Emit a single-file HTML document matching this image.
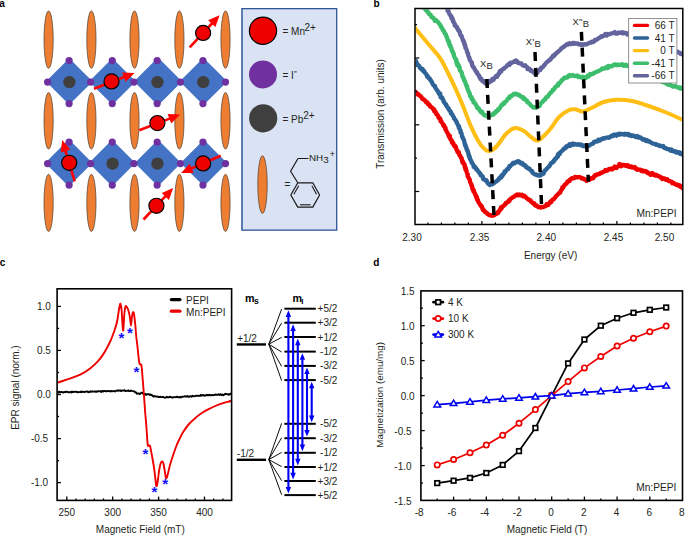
<!DOCTYPE html>
<html><head><meta charset="utf-8"><style>
html,body{margin:0;padding:0;background:#fff;}
svg{display:block;}
text{font-family:"Liberation Sans",sans-serif;}
</style></head><body>
<svg width="685" height="535" viewBox="0 0 685 535">
<rect width="685" height="535" fill="#fff"/>
<text x="-0.8" y="7" font-size="10" text-anchor="start" font-weight="bold" fill="#000" >a</text>
<ellipse cx="48.6" cy="39.6" rx="4.6" ry="28.7" fill="#ED7D31" stroke="#4a3c30" stroke-width="0.7"/>
<ellipse cx="91.4" cy="39.6" rx="4.6" ry="28.7" fill="#ED7D31" stroke="#4a3c30" stroke-width="0.7"/>
<ellipse cx="134.5" cy="39.6" rx="4.6" ry="28.7" fill="#ED7D31" stroke="#4a3c30" stroke-width="0.7"/>
<ellipse cx="179.4" cy="39.6" rx="4.6" ry="28.7" fill="#ED7D31" stroke="#4a3c30" stroke-width="0.7"/>
<ellipse cx="225.5" cy="39.6" rx="4.6" ry="28.7" fill="#ED7D31" stroke="#4a3c30" stroke-width="0.7"/>
<ellipse cx="48.6" cy="120.8" rx="4.6" ry="28.3" fill="#ED7D31" stroke="#4a3c30" stroke-width="0.7"/>
<ellipse cx="91.4" cy="120.8" rx="4.6" ry="28.3" fill="#ED7D31" stroke="#4a3c30" stroke-width="0.7"/>
<ellipse cx="134.5" cy="120.8" rx="4.6" ry="28.3" fill="#ED7D31" stroke="#4a3c30" stroke-width="0.7"/>
<ellipse cx="179.4" cy="120.8" rx="4.6" ry="28.3" fill="#ED7D31" stroke="#4a3c30" stroke-width="0.7"/>
<ellipse cx="225.5" cy="120.8" rx="4.6" ry="28.3" fill="#ED7D31" stroke="#4a3c30" stroke-width="0.7"/>
<ellipse cx="48.6" cy="202.9" rx="4.6" ry="28.6" fill="#ED7D31" stroke="#4a3c30" stroke-width="0.7"/>
<ellipse cx="91.4" cy="202.9" rx="4.6" ry="28.6" fill="#ED7D31" stroke="#4a3c30" stroke-width="0.7"/>
<ellipse cx="134.5" cy="202.9" rx="4.6" ry="28.6" fill="#ED7D31" stroke="#4a3c30" stroke-width="0.7"/>
<ellipse cx="179.4" cy="202.9" rx="4.6" ry="28.6" fill="#ED7D31" stroke="#4a3c30" stroke-width="0.7"/>
<ellipse cx="225.5" cy="202.9" rx="4.6" ry="28.6" fill="#ED7D31" stroke="#4a3c30" stroke-width="0.7"/>
<path d="M45.95,81.45 L69.25,58.15 L92.55,81.45 L69.25,104.75 Z" fill="#4472C4"/>
<path d="M89.10,81.45 L112.40,58.15 L135.70,81.45 L112.40,104.75 Z" fill="#4472C4"/>
<path d="M134.00,81.45 L158.00,57.45 L182.00,81.45 L158.00,105.45 Z" fill="#4472C4"/>
<path d="M179.65,81.45 L203.45,57.65 L227.25,81.45 L203.45,105.25 Z" fill="#4472C4"/>
<path d="M45.20,162.95 L68.80,139.35 L92.40,162.95 L68.80,186.55 Z" fill="#4472C4"/>
<path d="M88.95,162.95 L112.15,139.75 L135.35,162.95 L112.15,186.15 Z" fill="#4472C4"/>
<path d="M134.80,162.95 L158.00,139.75 L181.20,162.95 L158.00,186.15 Z" fill="#4472C4"/>
<path d="M180.60,162.95 L203.80,139.75 L227.00,162.95 L203.80,186.15 Z" fill="#4472C4"/>
<circle cx="69.1" cy="60.599999999999994" r="3.6" fill="#7030A0"/>
<circle cx="69.1" cy="103.6" r="3.6" fill="#7030A0"/>
<circle cx="112.25" cy="60.599999999999994" r="3.6" fill="#7030A0"/>
<circle cx="112.25" cy="103.6" r="3.6" fill="#7030A0"/>
<circle cx="157.15" cy="60.599999999999994" r="3.6" fill="#7030A0"/>
<circle cx="157.15" cy="103.6" r="3.6" fill="#7030A0"/>
<circle cx="202.95" cy="60.599999999999994" r="3.6" fill="#7030A0"/>
<circle cx="202.95" cy="103.6" r="3.6" fill="#7030A0"/>
<circle cx="47.6" cy="82.1" r="3.6" fill="#7030A0"/>
<circle cx="90.6" cy="82.1" r="3.6" fill="#7030A0"/>
<circle cx="133.9" cy="82.1" r="3.6" fill="#7030A0"/>
<circle cx="180.4" cy="82.1" r="3.6" fill="#7030A0"/>
<circle cx="225.5" cy="82.1" r="3.6" fill="#7030A0"/>
<circle cx="69.1" cy="142.1" r="3.6" fill="#7030A0"/>
<circle cx="69.1" cy="185.1" r="3.6" fill="#7030A0"/>
<circle cx="112.25" cy="142.1" r="3.6" fill="#7030A0"/>
<circle cx="112.25" cy="185.1" r="3.6" fill="#7030A0"/>
<circle cx="157.15" cy="142.1" r="3.6" fill="#7030A0"/>
<circle cx="157.15" cy="185.1" r="3.6" fill="#7030A0"/>
<circle cx="202.95" cy="142.1" r="3.6" fill="#7030A0"/>
<circle cx="202.95" cy="185.1" r="3.6" fill="#7030A0"/>
<circle cx="47.6" cy="163.6" r="3.6" fill="#7030A0"/>
<circle cx="90.6" cy="163.6" r="3.6" fill="#7030A0"/>
<circle cx="133.9" cy="163.6" r="3.6" fill="#7030A0"/>
<circle cx="180.4" cy="163.6" r="3.6" fill="#7030A0"/>
<circle cx="225.5" cy="163.6" r="3.6" fill="#7030A0"/>
<circle cx="69.39999999999999" cy="82.1" r="6.2" fill="#3F3F3F"/>
<circle cx="157.45000000000002" cy="82.1" r="6.2" fill="#3F3F3F"/>
<circle cx="203.25" cy="82.1" r="6.2" fill="#3F3F3F"/>
<circle cx="112.55" cy="163.6" r="6.2" fill="#3F3F3F"/>
<circle cx="157.45000000000002" cy="163.6" r="6.2" fill="#3F3F3F"/>
<line x1="94" y1="88.7" x2="124.8" y2="76.8" stroke="#FF0000" stroke-width="2.6"/><path d="M134.6,73 L125.7,81.8 L122.1,72.5 Z" fill="#FF0000"/>
<line x1="74.7" y1="181.4" x2="65.2" y2="150.0" stroke="#FF0000" stroke-width="2.6"/><path d="M62.2,139.9 L70.3,149.5 L60.7,152.4 Z" fill="#FF0000"/>
<line x1="220.7" y1="155.7" x2="190.7" y2="168.8" stroke="#FF0000" stroke-width="2.6"/><path d="M181.1,173 L189.6,163.8 L193.6,173.0 Z" fill="#FF0000"/>
<line x1="189.7" y1="47.4" x2="212.4" y2="23.0" stroke="#FF0000" stroke-width="2.6"/><path d="M219.6,15.3 L215.4,27.1 L208.1,20.3 Z" fill="#FF0000"/>
<line x1="139.2" y1="130.3" x2="170.3" y2="118.4" stroke="#FF0000" stroke-width="2.6"/><path d="M180.1,114.6 L171.2,123.4 L167.6,114.1 Z" fill="#FF0000"/>
<line x1="143.5" y1="219.5" x2="166.0" y2="195.7" stroke="#FF0000" stroke-width="2.6"/><path d="M173.2,188.1 L168.9,199.9 L161.7,193.0 Z" fill="#FF0000"/>
<circle cx="111.5" cy="81.4" r="7.55" fill="#EE0000" stroke="#000" stroke-width="1.15"/>
<circle cx="69.2" cy="162.8" r="7.55" fill="#EE0000" stroke="#000" stroke-width="1.15"/>
<circle cx="203.1" cy="163.4" r="7.55" fill="#EE0000" stroke="#000" stroke-width="1.15"/>
<circle cx="203.1" cy="32.9" r="7.55" fill="#EE0000" stroke="#000" stroke-width="1.15"/>
<circle cx="157.4" cy="123.1" r="7.55" fill="#EE0000" stroke="#000" stroke-width="1.15"/>
<circle cx="156.4" cy="205.8" r="7.55" fill="#EE0000" stroke="#000" stroke-width="1.15"/>
<rect x="241.9" y="8.65" width="94.8" height="221.5" fill="#DAE3F3" stroke="#2F5597" stroke-width="1.3"/>
<line x1="242.3" y1="9" x2="242.3" y2="229.8" stroke="#5273B0" stroke-width="1"/>
<circle cx="263" cy="30.7" r="13.6" fill="#EE0000" stroke="#000" stroke-width="1.2"/>
<circle cx="263" cy="74.4" r="14" fill="#7030A0"/>
<circle cx="263.2" cy="118.3" r="14.1" fill="#3F3F3F"/>
<ellipse cx="262.5" cy="184.6" rx="4.7" ry="28.8" fill="#ED7D31" stroke="#4a3c30" stroke-width="0.7"/>
<text x="282.5" y="34.6" font-size="10" text-anchor="start" font-weight="normal" fill="#231f20" >= Mn</text>
<text x="304.5" y="30.6" font-size="10" text-anchor="start" font-weight="normal" fill="#231f20" >2+</text>
<text x="282.5" y="78.6" font-size="10" text-anchor="start" font-weight="normal" fill="#231f20" >= I</text>
<line x1="294.2" y1="71.9" x2="296.8" y2="71.9" stroke="#231f20" stroke-width="0.9"/>
<text x="282.5" y="122.6" font-size="10" text-anchor="start" font-weight="normal" fill="#231f20" >= Pb</text>
<text x="303.3" y="118.6" font-size="10" text-anchor="start" font-weight="normal" fill="#231f20" >2+</text>
<text x="284.6" y="188.0" font-size="10" text-anchor="start" font-weight="normal" fill="#231f20" >=</text>
<path d="M297.8,182.8 L312.8,182.8 L319.6,195.0 L312.8,207.1 L297.8,207.1 L290.8,195.0 Z" fill="none" stroke="#1a1a1a" stroke-width="1.2" stroke-linejoin="round"/>
<path d="M298,158.5 L308.4,158.5 M298,158.5 L290.6,171.2 L297.8,182.8" fill="none" stroke="#1a1a1a" stroke-width="1.2" stroke-linejoin="round"/>
<line x1="311.9" y1="185.8" x2="316.5" y2="194.2" stroke="#1a1a1a" stroke-width="1.1"/>
<line x1="310.6" y1="204.8" x2="300.0" y2="204.8" stroke="#1a1a1a" stroke-width="1.1"/>
<line x1="293.9" y1="194.2" x2="298.7" y2="185.8" stroke="#1a1a1a" stroke-width="1.1"/>
<text x="309.0" y="160.8" font-size="9.8" text-anchor="start" font-weight="normal" fill="#231f20" >NH</text>
<text x="323.3" y="163.1" font-size="9.8" text-anchor="start" font-weight="normal" fill="#231f20" >3</text>
<text x="329.6" y="156.9" font-size="9.8" text-anchor="start" font-weight="normal" fill="#231f20" >+</text>
<text x="373.5" y="7" font-size="10" text-anchor="start" font-weight="bold" fill="#000" >b</text>
<defs><clipPath id="cb"><rect x="415.6" y="9.2" width="266.6" height="214.6"/></clipPath><clipPath id="cc"><rect x="58" y="289" width="173.6" height="210.5"/></clipPath></defs>
<g clip-path="url(#cb)" fill="none" stroke-linejoin="round" stroke-linecap="round">
<path d="M414.9,91.7 L415.3,91.7 L415.5,92.1 L416.4,92.7 L416.9,93.1 L417.3,93.5 L417.4,94.4 L418.5,94.7 L418.6,94.3 L419.5,95.5 L420.4,96.3 L421.1,96.6 L421.8,97.7 L422.2,98.9 L423.2,99.3 L423.6,99.1 L424.3,100.0 L425.2,100.8 L425.6,100.8 L426.1,102.4 L426.6,102.5 L427.5,102.4 L428.0,104.2 L428.1,104.1 L429.2,104.5 L429.9,105.5 L430.0,106.5 L431.0,107.1 L431.7,107.5 L432.0,107.4 L432.6,108.3 L432.9,108.6 L433.3,109.5 L434.3,109.5 L434.2,111.2 L435.3,112.0 L435.1,111.2 L436.1,112.7 L436.2,114.1 L437.2,114.4 L437.5,115.2 L438.2,116.0 L438.4,116.6 L438.4,117.6 L439.4,118.0 L439.2,118.2 L440.2,118.4 L440.4,120.3 L440.6,121.3 L441.4,121.2 L441.8,122.3 L442.2,123.3 L442.4,123.3 L443.2,124.3 L443.2,125.4 L444.1,125.5 L443.8,126.3 L444.5,126.9 L445.2,127.3 L445.5,127.9 L445.4,129.5 L446.2,130.3 L446.4,130.8 L446.7,131.7 L447.0,132.3 L447.5,132.9 L448.0,133.9 L448.6,134.5 L448.4,134.9 L448.9,136.2 L449.1,136.7 L450.0,136.1 L449.7,138.0 L450.4,138.7 L450.6,139.6 L451.2,139.8 L452.1,141.0 L451.8,141.5 L452.3,142.2 L452.1,142.7 L453.4,143.1 L453.5,144.7 L454.1,145.7 L454.0,145.5 L454.7,146.6 L455.4,145.9 L455.8,147.1 L456.1,147.8 L456.4,149.7 L456.8,150.0 L457.4,150.8 L457.5,152.1 L458.2,151.9 L458.9,152.2 L458.9,153.3 L459.1,154.4 L459.5,155.1 L459.4,154.8 L460.3,155.8 L460.3,156.3 L461.2,158.0 L461.6,157.9 L461.6,158.6 L462.2,160.5 L462.1,161.3 L462.9,161.3 L462.6,162.7 L463.4,162.6 L463.8,163.9 L464.4,164.0 L464.6,165.9 L465.0,165.9 L464.8,167.1 L465.3,167.5 L465.8,168.1 L465.3,168.8 L465.7,170.1 L466.4,170.2 L466.6,171.7 L466.9,172.7 L467.1,173.3 L467.8,174.4 L467.5,174.9 L467.5,174.8 L467.8,176.6 L468.2,176.9 L468.7,177.7 L468.9,178.6 L469.7,179.3 L469.7,180.6 L469.9,180.3 L470.1,182.2 L470.1,182.2 L471.0,183.6 L471.1,184.4 L471.4,184.3 L471.3,185.3 L472.2,186.1 L472.1,186.8 L472.2,187.9 L472.6,189.0 L472.7,189.7 L473.4,189.5 L474.0,191.1 L473.6,191.6 L474.5,192.5 L474.9,193.8 L475.2,194.4 L475.6,195.3 L475.7,194.8 L476.1,197.0 L476.2,196.9 L477.0,197.0 L476.9,199.5 L476.9,199.3 L478.0,199.9 L478.1,201.3 L478.3,201.7 L479.0,203.0 L479.4,203.3 L479.6,204.0 L480.5,205.0 L480.5,205.3 L481.7,206.8 L481.7,205.8 L482.1,207.8 L482.7,208.4 L482.7,209.0 L482.7,209.8 L483.9,210.0 L484.8,211.9 L484.8,211.5 L485.8,212.5 L486.2,212.4 L487.4,213.8 L487.2,213.2 L488.7,214.8 L489.5,215.2 L489.6,215.3 L490.1,215.1 L491.5,215.7 L492.0,215.4 L493.0,215.6 L493.8,215.4 L494.3,215.4 L495.2,214.4 L495.9,214.2 L497.0,213.6 L497.5,213.2 L497.9,212.0 L498.5,212.5 L499.1,211.4 L499.6,210.4 L499.6,210.1 L500.4,209.8 L500.9,207.5 L501.4,208.7 L502.2,206.6 L502.6,206.8 L503.5,205.9 L504.2,205.5 L504.5,204.8 L505.4,204.4 L505.8,202.9 L506.2,203.1 L506.8,202.6 L507.6,201.9 L508.1,202.0 L509.0,200.2 L509.4,200.9 L509.9,199.6 L510.8,198.7 L510.9,198.3 L511.9,198.3 L512.6,197.4 L513.2,197.2 L513.9,196.6 L514.6,196.5 L515.3,195.5 L516.3,194.9 L517.0,194.4 L517.8,195.4 L518.9,195.1 L519.5,194.5 L520.8,195.4 L521.4,194.9 L521.9,194.7 L522.9,196.3 L523.0,196.2 L524.4,195.8 L524.6,196.6 L525.6,196.9 L526.5,198.1 L527.4,198.8 L528.3,199.5 L528.4,199.2 L529.1,199.5 L530.0,200.6 L530.7,200.5 L531.0,201.8 L531.9,202.2 L532.5,202.6 L533.3,203.7 L533.8,203.8 L534.4,203.4 L534.8,205.0 L535.5,205.6 L536.6,205.4 L537.3,206.3 L538.3,207.1 L538.9,206.8 L539.7,207.3 L540.7,207.6 L541.1,206.9 L541.9,207.1 L542.4,207.2 L543.2,207.1 L544.1,206.6 L545.2,206.3 L545.7,206.0 L546.5,204.3 L546.9,204.9 L548.1,205.1 L548.6,204.2 L549.2,203.6 L549.6,202.6 L550.2,201.7 L550.9,201.2 L551.3,202.1 L551.7,200.6 L552.7,200.0 L552.8,199.5 L553.8,199.0 L554.1,198.9 L555.2,197.5 L555.5,196.6 L556.4,195.8 L556.9,195.3 L557.1,195.2 L558.2,194.2 L558.3,194.0 L559.0,193.1 L559.9,192.9 L560.0,192.8 L560.6,191.4 L561.0,190.4 L561.2,190.5 L562.4,188.4 L562.3,187.5 L563.4,187.4 L563.6,186.7 L564.1,185.7 L564.6,184.8 L565.1,184.9 L565.7,184.0 L565.9,183.6 L566.5,183.6 L567.3,182.3 L567.5,181.5 L567.9,181.2 L568.7,181.1 L569.5,181.2 L570.0,179.7 L571.6,178.3 L571.7,178.8 L572.6,178.5 L573.4,178.2 L574.2,178.1 L574.6,177.1 L575.8,176.8 L576.4,177.4 L577.3,177.3 L578.4,177.1 L579.1,177.0 L579.5,177.2 L580.7,177.3 L581.3,178.2 L582.0,178.6 L583.4,178.5 L583.8,179.1 L584.9,179.7 L585.5,179.5 L586.1,180.1 L586.5,180.9 L587.9,179.4 L588.6,180.0 L589.2,180.0 L589.4,179.4 L590.8,178.9 L590.9,178.1 L591.5,178.4 L592.8,177.9 L593.2,178.2 L593.8,176.3 L594.8,176.3 L595.2,175.0 L596.4,175.1 L597.0,174.4 L597.8,174.4 L598.6,173.9 L599.2,174.1 L600.3,173.1 L600.9,172.6 L601.5,173.0 L602.7,172.1 L603.1,172.1 L603.6,171.6 L604.6,171.5 L605.3,170.1 L606.4,170.8 L607.1,170.7 L608.0,169.7 L608.9,169.0 L609.5,169.4 L610.6,169.1 L611.2,168.6 L611.9,169.3 L612.4,169.4 L613.1,168.1 L614.2,168.2 L614.7,166.5 L615.9,167.4 L616.7,167.9 L617.4,166.5 L618.3,166.3 L619.1,165.3 L619.4,164.0 L620.4,165.2 L621.1,166.2 L621.7,165.0 L622.4,164.6 L623.2,165.3 L624.3,165.0 L624.9,165.5 L625.8,165.1 L626.5,165.2 L626.8,166.1 L627.9,165.2 L628.8,166.0 L628.9,166.8 L630.1,166.7 L630.9,166.5 L631.2,167.3 L632.4,167.0 L633.3,167.5 L634.2,167.6 L634.8,167.1 L635.6,168.7 L636.8,168.6 L637.3,169.8 L638.2,169.7 L639.5,169.7 L640.3,169.7 L640.7,170.2 L641.4,171.0 L642.6,170.4 L642.7,171.2 L643.3,171.4 L644.4,171.3 L645.1,171.0 L645.9,171.2 L646.3,171.9 L647.2,172.8 L648.0,172.5 L648.9,173.6 L649.5,173.3 L650.6,173.5 L650.8,174.8 L652.4,173.1 L652.7,174.4 L653.7,174.8 L654.2,174.3 L655.1,175.6 L655.7,174.9 L656.7,174.8 L657.5,175.8 L658.5,176.0 L659.0,176.5 L660.0,176.7 L660.7,177.6 L661.7,178.4 L662.0,177.7 L662.4,179.1 L663.6,178.6 L664.7,178.4 L665.5,179.3 L665.9,179.9 L667.4,179.3 L668.2,180.6 L669.0,181.1 L670.0,181.2 L670.8,181.5 L671.6,181.7 L672.3,183.3 L673.3,182.8 L673.7,182.9 L674.9,184.1 L675.7,184.3 L676.4,185.0 L677.1,184.5 L678.1,185.1 L678.6,185.2 L679.2,186.1 L680.0,185.5 L680.7,186.4 L680.9,187.0 L681.6,186.7 L682.3,187.7 L682.4,187.5 L682.8,188.5" stroke="#EE0000" stroke-width="4.3"/>
<path d="M414.9,62.0 L415.1,62.2 L416.1,61.1 L415.8,62.8 L416.3,62.7 L417.2,63.5 L416.8,64.4 L417.2,65.0 L418.0,65.1 L418.9,65.7 L418.8,65.5 L419.9,67.2 L420.0,67.9 L420.9,68.4 L420.8,68.7 L422.1,69.8 L422.7,69.1 L423.2,71.1 L424.3,71.2 L424.3,72.3 L425.1,72.9 L425.8,73.4 L426.2,74.3 L426.8,74.9 L427.0,76.5 L427.9,76.4 L428.5,77.9 L428.8,78.1 L429.6,79.0 L429.9,78.6 L430.7,80.3 L430.9,80.7 L431.4,81.3 L431.6,81.8 L432.2,82.5 L432.5,83.8 L432.9,84.5 L433.4,85.0 L434.4,85.7 L434.4,86.3 L435.1,86.2 L435.3,87.8 L435.8,88.5 L436.5,89.5 L437.0,90.1 L437.2,90.6 L437.6,91.2 L438.1,91.3 L438.5,92.7 L438.8,93.5 L439.5,94.1 L440.3,93.7 L440.2,94.8 L440.9,97.5 L440.6,97.1 L441.7,97.5 L442.1,97.4 L442.6,99.2 L442.8,99.4 L443.3,100.1 L443.7,100.8 L443.6,101.7 L444.6,102.9 L444.8,103.3 L445.7,104.1 L446.3,105.7 L446.3,104.7 L447.2,107.0 L447.7,107.5 L447.8,107.5 L448.6,108.2 L448.5,108.9 L449.9,110.9 L449.6,110.4 L450.3,111.1 L451.0,112.2 L450.9,113.5 L451.4,113.7 L452.0,114.1 L452.4,114.6 L452.3,114.6 L452.9,115.9 L453.5,116.9 L454.0,117.5 L454.1,117.7 L454.1,118.6 L455.0,119.4 L455.4,120.1 L456.2,121.1 L456.6,122.2 L456.8,123.2 L457.0,123.2 L457.3,123.7 L458.1,125.5 L458.1,125.6 L458.6,126.4 L458.9,126.1 L458.8,127.6 L459.6,128.2 L459.4,128.9 L459.9,129.6 L460.6,130.4 L460.5,132.3 L461.0,132.2 L460.9,132.9 L461.7,133.7 L461.8,134.2 L461.9,134.8 L462.2,136.3 L462.0,136.5 L462.7,137.0 L462.8,138.4 L463.6,139.2 L463.5,139.0 L464.2,140.6 L464.0,140.8 L464.3,141.7 L464.6,143.2 L464.9,143.9 L464.9,145.2 L465.3,144.6 L465.7,145.9 L465.8,146.8 L466.3,147.2 L466.5,149.2 L467.0,149.3 L467.2,150.1 L467.4,151.3 L467.7,150.7 L468.0,152.2 L468.4,153.1 L468.6,155.2 L468.7,154.5 L468.9,154.8 L469.1,156.8 L469.7,156.6 L469.8,158.6 L470.2,158.9 L470.8,160.4 L471.4,161.0 L471.3,161.4 L472.0,162.6 L471.8,162.9 L472.3,163.3 L472.4,163.3 L472.7,163.8 L473.6,165.7 L473.6,166.9 L474.6,166.2 L475.4,168.2 L476.0,167.9 L476.1,169.3 L476.6,169.8 L477.3,169.6 L477.4,170.2 L478.0,171.1 L478.8,172.0 L479.2,172.2 L479.6,173.5 L480.4,173.8 L480.7,175.2 L481.1,175.5 L482.0,175.8 L482.5,176.1 L483.0,177.4 L482.9,178.3 L483.5,179.3 L484.1,179.2 L484.8,179.7 L485.3,180.2 L485.9,180.9 L486.5,180.3 L487.4,182.2 L487.4,182.8 L488.5,183.8 L488.9,184.4 L489.8,185.1 L490.6,184.4 L491.4,183.5 L492.3,184.3 L493.0,184.0 L493.1,182.6 L493.7,182.7 L494.3,182.9 L495.2,182.1 L495.9,181.6 L496.5,181.5 L497.4,180.3 L497.5,180.6 L498.6,179.8 L498.9,178.5 L500.0,177.4 L500.4,177.8 L501.2,177.7 L501.3,175.7 L502.2,176.2 L502.6,174.5 L503.3,174.7 L503.8,173.5 L504.3,173.3 L504.6,171.4 L505.4,171.7 L505.8,171.2 L506.3,170.1 L506.9,169.7 L507.8,168.6 L508.4,168.8 L508.7,167.8 L509.4,166.9 L509.5,166.0 L510.1,166.6 L510.9,165.5 L511.5,164.7 L512.0,164.5 L513.0,163.0 L513.6,162.7 L514.7,163.2 L514.9,162.8 L516.1,161.9 L516.3,161.7 L517.3,162.1 L518.1,161.1 L518.9,161.4 L519.7,161.8 L520.0,162.2 L520.7,163.5 L521.7,163.6 L522.3,163.1 L522.8,164.1 L523.4,165.1 L524.1,165.1 L524.8,165.0 L525.9,167.1 L526.5,166.6 L526.6,167.6 L528.3,168.1 L528.9,169.1 L529.6,168.8 L530.3,169.9 L530.4,170.0 L531.1,170.7 L532.2,171.0 L532.4,172.7 L533.6,173.4 L534.0,173.8 L535.5,174.7 L535.7,174.4 L536.4,175.1 L537.4,175.0 L537.7,175.4 L538.6,175.4 L539.6,175.7 L540.3,174.6 L540.7,175.4 L541.0,174.5 L542.0,174.4 L542.4,172.8 L542.6,173.1 L543.6,173.6 L543.9,172.3 L544.9,170.5 L545.1,170.6 L545.8,169.8 L546.6,168.8 L547.2,168.2 L547.6,168.0 L548.2,167.2 L549.3,166.3 L549.4,165.9 L550.0,165.4 L550.3,164.5 L551.0,163.2 L552.1,162.6 L552.6,162.6 L553.0,161.4 L553.6,161.8 L553.9,160.4 L555.1,159.8 L555.0,158.8 L555.7,158.6 L556.2,158.5 L556.6,157.3 L557.5,156.0 L558.0,156.6 L557.9,154.6 L558.5,153.7 L559.3,153.1 L559.9,154.0 L559.9,152.6 L560.3,152.5 L561.1,151.5 L561.8,151.3 L562.2,150.6 L562.9,150.0 L563.4,149.4 L563.9,148.6 L565.5,148.3 L565.4,147.8 L566.2,146.4 L566.9,147.0 L567.8,146.2 L568.2,145.3 L569.4,145.5 L569.6,144.1 L570.1,145.9 L570.9,144.5 L571.8,144.2 L572.6,143.5 L573.3,144.8 L574.3,144.4 L575.0,144.0 L576.4,144.7 L576.9,144.6 L578.2,144.2 L579.0,144.3 L579.6,144.9 L579.9,145.0 L581.1,144.5 L582.1,145.7 L583.0,146.2 L583.5,145.4 L584.8,146.4 L585.4,146.1 L586.1,146.8 L586.9,146.7 L588.0,146.2 L588.1,145.6 L589.2,145.7 L589.3,145.3 L590.1,144.8 L590.8,144.6 L591.4,144.0 L592.3,143.8 L593.0,143.6 L593.9,142.0 L594.5,142.1 L595.6,141.3 L596.2,141.4 L597.2,141.5 L597.9,141.3 L598.3,139.7 L599.7,140.5 L600.3,140.0 L601.1,139.1 L602.0,139.1 L602.9,139.1 L603.1,138.2 L604.6,138.4 L605.2,138.3 L606.0,137.6 L607.0,137.7 L608.2,137.4 L609.1,137.9 L609.9,137.3 L610.4,136.6 L611.1,136.0 L611.8,135.8 L612.9,136.1 L613.1,134.8 L614.2,135.2 L614.8,134.6 L615.3,135.1 L616.5,135.7 L617.2,134.3 L618.2,134.2 L618.6,133.8 L619.1,134.5 L620.2,134.5 L620.7,133.7 L621.5,134.2 L622.4,134.1 L623.6,134.5 L623.8,134.4 L624.5,133.7 L625.0,134.7 L626.4,134.0 L626.6,134.3 L628.1,135.0 L628.2,133.9 L628.9,135.4 L630.3,135.0 L630.5,135.1 L631.1,135.9 L632.1,136.2 L632.8,135.4 L634.1,135.8 L635.1,136.4 L635.5,136.9 L636.8,136.1 L637.9,137.4 L638.5,136.6 L639.0,137.6 L640.2,137.3 L640.5,137.3 L641.4,138.6 L641.8,138.5 L643.0,139.7 L643.8,139.2 L644.1,139.2 L645.0,139.9 L645.8,140.9 L646.7,140.0 L647.7,141.2 L648.1,140.8 L648.5,140.9 L649.8,141.4 L650.1,142.1 L651.2,142.6 L652.1,143.3 L652.6,143.5 L653.3,143.7 L654.4,143.8 L655.3,144.0 L656.2,144.8 L656.8,144.4 L657.4,144.8 L658.3,145.3 L659.8,146.0 L660.2,145.6 L660.6,146.1 L661.5,146.1 L662.6,146.6 L663.3,146.1 L663.9,147.6 L664.8,148.1 L665.7,148.2 L666.1,148.2 L666.9,149.1 L668.4,149.1 L669.0,149.2 L670.5,150.6 L671.0,150.8 L671.5,149.6 L672.6,150.5 L673.5,151.3 L675.2,151.2 L675.3,151.9 L676.1,152.5 L677.3,151.9 L677.7,152.6 L678.5,152.3 L678.8,152.2 L679.9,153.6 L680.5,152.7 L681.0,153.6 L681.3,153.8 L682.3,154.6 L682.6,154.8 L682.9,154.7" stroke="#2E6398" stroke-width="4.3"/>
<path d="M415.0,28.0 C417.3,30.8 424.8,39.8 429.0,44.8 C433.2,49.8 436.9,53.5 440.0,58.0 C443.1,62.5 444.8,66.7 447.5,72.0 C450.2,77.3 453.4,84.0 456.0,89.7 C458.6,95.4 460.6,100.1 463.0,106.0 C465.4,111.9 467.7,119.0 470.3,124.9 C472.9,130.8 476.3,137.7 478.7,141.7 C481.1,145.7 482.7,147.4 484.5,149.0 C486.3,150.6 487.6,151.5 489.7,151.0 C491.8,150.5 494.3,148.8 497.0,146.0 C499.7,143.2 503.0,137.0 506.0,134.0 C509.0,131.0 511.8,128.5 514.8,128.0 C517.8,127.5 521.3,129.5 524.0,131.0 C526.7,132.5 528.6,135.4 531.0,137.0 C533.4,138.6 535.3,141.5 538.4,140.3 C541.5,139.1 546.1,133.8 549.5,130.0 C552.9,126.2 555.8,120.5 559.0,117.2 C562.2,113.9 565.9,111.5 568.6,110.2 C571.3,108.9 572.6,109.1 575.0,109.3 C577.4,109.5 580.4,111.7 583.0,111.5 C585.6,111.3 587.5,109.9 590.9,108.3 C594.3,106.7 599.4,103.4 603.6,102.0 C607.8,100.6 611.6,99.9 616.3,99.7 C621.0,99.5 626.8,100.0 632.0,101.0 C637.2,102.0 641.8,103.7 647.3,105.5 C652.8,107.3 659.0,109.6 665.0,112.0 C671.0,114.4 680.0,118.7 683.0,120.0" stroke="#FFBE14" stroke-width="4.0"/>
<path d="M421.0,4.7 L421.3,4.8 L421.7,5.0 L422.7,6.0 L422.8,7.4 L423.5,6.3 L424.0,8.0 L424.9,8.9 L425.2,8.5 L425.5,9.9 L426.4,10.0 L426.8,10.9 L427.5,11.9 L427.9,11.7 L428.9,13.7 L429.2,14.1 L430.0,14.6 L430.6,14.6 L431.2,16.0 L431.4,17.0 L432.7,17.6 L433.3,17.7 L433.3,17.7 L433.8,18.7 L434.6,19.5 L434.7,20.8 L436.3,20.3 L436.5,21.1 L437.0,21.3 L437.5,21.6 L438.2,22.6 L438.8,22.9 L439.4,24.1 L440.1,24.5 L440.5,26.0 L440.9,25.9 L441.0,26.6 L441.6,28.0 L441.8,27.7 L442.3,28.7 L442.4,28.9 L443.0,30.3 L443.1,30.2 L443.9,30.9 L444.2,32.3 L444.5,32.4 L444.9,33.5 L445.4,34.1 L446.0,34.5 L446.1,36.1 L446.7,36.6 L447.0,37.4 L447.4,39.1 L447.4,39.2 L447.6,40.2 L448.4,40.5 L448.1,41.3 L449.0,42.4 L449.2,41.8 L449.2,44.0 L449.3,44.7 L450.3,45.3 L450.5,45.5 L450.2,46.4 L450.8,47.2 L451.3,48.0 L451.5,49.0 L451.7,50.4 L452.1,50.4 L452.3,50.9 L452.9,52.0 L452.7,52.4 L453.2,53.2 L453.7,53.6 L453.9,55.0 L453.8,55.7 L454.4,56.7 L454.6,57.3 L454.7,57.5 L455.6,59.2 L455.7,59.3 L456.3,59.4 L456.2,61.4 L456.8,61.4 L456.6,63.3 L457.4,63.0 L457.7,64.6 L457.4,65.4 L458.4,64.7 L458.8,65.6 L459.1,67.3 L459.7,67.5 L459.5,69.0 L459.6,68.9 L460.0,69.9 L460.1,70.8 L460.7,71.2 L461.4,72.0 L461.6,72.8 L461.9,73.0 L462.1,74.6 L462.3,75.2 L462.6,75.9 L462.5,76.7 L463.2,77.5 L463.4,78.4 L464.1,79.1 L464.1,80.6 L464.8,81.1 L465.1,81.3 L465.2,82.7 L465.4,82.9 L465.9,83.9 L466.0,85.0 L466.4,85.6 L467.0,86.4 L467.2,86.3 L467.0,87.3 L467.7,89.1 L467.6,89.3 L468.0,89.6 L468.4,91.0 L468.9,92.0 L468.9,92.6 L469.6,93.0 L469.8,93.4 L469.8,94.1 L470.2,96.3 L470.6,96.6 L471.1,96.8 L471.6,97.1 L472.0,98.4 L471.8,99.3 L472.7,99.9 L473.3,100.3 L473.4,101.5 L473.5,102.4 L473.8,102.0 L474.7,102.8 L475.0,103.3 L475.5,104.2 L476.0,104.7 L476.5,105.9 L476.9,106.7 L477.4,106.8 L477.3,108.1 L478.2,108.5 L479.0,108.5 L479.3,109.7 L479.7,110.7 L480.5,110.8 L480.8,112.1 L481.4,112.5 L482.3,112.0 L482.7,113.6 L483.7,114.6 L484.5,115.3 L484.9,115.2 L485.9,115.6 L486.7,115.4 L487.4,116.3 L487.6,116.8 L488.7,116.3 L489.1,116.0 L490.4,115.6 L490.0,115.2 L491.3,115.2 L492.2,114.4 L492.8,114.8 L493.5,114.6 L494.4,112.7 L495.4,112.9 L495.8,112.3 L496.1,111.1 L497.3,110.9 L497.3,110.7 L498.3,109.9 L498.2,109.2 L499.2,109.1 L500.0,108.0 L500.0,107.4 L500.9,106.4 L501.4,104.9 L501.8,105.2 L502.3,105.2 L502.5,104.2 L503.4,103.9 L503.8,102.6 L504.1,103.6 L505.1,101.8 L505.4,101.7 L506.2,101.3 L507.2,100.0 L507.8,98.8 L508.2,98.4 L508.6,98.1 L509.6,98.1 L509.5,96.5 L510.7,96.1 L511.7,96.0 L512.2,95.1 L513.0,95.1 L513.1,94.5 L513.9,93.8 L514.8,94.2 L515.6,93.7 L516.2,93.7 L517.1,94.6 L518.1,95.1 L518.3,94.6 L519.0,95.3 L520.3,95.9 L520.1,95.4 L521.0,96.7 L522.0,97.1 L523.2,97.1 L523.3,98.9 L524.3,98.2 L524.5,98.3 L525.1,99.5 L526.2,100.4 L526.8,100.3 L527.2,102.1 L527.6,102.0 L528.6,102.9 L529.1,103.6 L530.0,104.0 L530.3,104.7 L530.8,105.4 L531.6,106.1 L532.6,107.1 L532.9,107.2 L533.8,107.6 L534.4,107.5 L535.1,107.0 L536.2,107.8 L536.6,107.2 L537.1,106.6 L537.1,106.8 L538.1,105.9 L538.4,106.3 L538.7,106.0 L539.9,105.8 L540.1,104.2 L540.8,103.7 L541.4,102.7 L542.3,102.0 L542.6,102.0 L543.2,100.9 L544.0,100.2 L544.3,99.6 L545.1,99.7 L545.5,98.6 L546.2,97.3 L546.9,96.8 L547.8,96.8 L548.1,95.9 L549.0,94.9 L549.2,94.3 L550.0,93.3 L550.5,92.8 L551.4,92.4 L551.6,91.7 L552.5,90.3 L553.0,89.6 L553.5,89.8 L554.4,89.0 L554.6,87.8 L555.0,87.8 L555.9,86.5 L556.7,85.8 L557.0,85.3 L558.1,85.5 L558.3,83.4 L559.0,83.5 L559.6,83.1 L560.0,82.7 L560.8,81.8 L561.1,80.9 L561.9,80.1 L562.2,79.7 L562.5,79.8 L563.3,79.1 L564.1,78.0 L564.4,78.4 L565.1,77.4 L565.6,77.6 L566.6,77.5 L567.3,77.5 L568.0,76.1 L568.8,75.6 L569.6,75.0 L570.4,76.0 L571.4,75.6 L572.2,75.5 L572.6,75.0 L573.3,75.5 L574.5,76.1 L574.8,76.1 L575.9,75.8 L576.6,75.9 L577.3,75.4 L578.2,77.0 L579.3,76.5 L579.6,76.8 L580.7,77.3 L581.2,77.5 L582.1,77.7 L582.8,76.9 L583.7,77.9 L584.3,77.5 L585.4,77.2 L585.8,78.0 L586.7,77.3 L587.0,77.3 L587.5,76.0 L588.7,76.4 L589.0,75.1 L589.9,74.1 L590.7,74.7 L591.3,74.3 L592.4,73.7 L593.2,73.8 L593.9,72.8 L594.5,72.9 L595.2,72.3 L596.0,71.9 L597.1,71.5 L597.8,71.5 L598.6,70.8 L599.3,70.8 L599.8,70.3 L600.7,69.8 L601.9,69.2 L602.1,68.4 L603.2,68.5 L604.1,68.7 L605.3,68.3 L605.8,67.5 L606.6,68.1 L607.6,66.4 L608.2,67.7 L608.9,66.1 L609.3,66.8 L610.1,65.9 L610.8,66.4 L611.6,66.4 L612.8,65.6 L613.2,65.1 L614.4,64.5 L615.4,64.4 L615.4,65.0 L616.5,65.2 L617.0,64.7 L617.8,64.6 L618.1,65.2 L619.6,64.9 L620.1,64.9 L621.0,64.8 L622.0,64.2 L622.7,64.5 L623.4,65.7 L624.0,65.1 L625.0,65.7 L625.7,64.7 L626.9,65.4 L627.6,66.1 L628.4,65.7 L629.5,66.2 L630.2,66.6 L631.6,66.2 L632.4,65.6 L633.1,66.5 L633.6,66.6 L634.2,66.4 L635.0,67.6 L636.0,67.0 L636.4,67.0 L637.0,68.2 L638.2,67.6 L638.7,67.3 L639.9,68.3 L640.2,68.6 L641.0,68.7 L641.9,68.6 L643.1,69.3 L644.2,69.2 L645.3,70.6 L645.6,70.5 L646.0,70.5 L646.5,71.0 L647.4,71.9 L648.2,72.1 L648.6,72.0 L649.2,72.6 L649.5,73.3 L650.3,73.2 L651.3,73.7 L652.4,74.3 L653.1,75.4 L653.3,75.5 L654.4,75.7 L654.9,76.1 L655.6,76.7 L656.3,77.8 L657.3,77.9 L657.8,78.7 L658.4,78.4 L659.4,78.9 L660.1,79.4 L661.0,79.8 L661.5,81.4 L661.8,81.8 L662.5,80.8 L663.5,82.3 L664.0,81.2 L664.6,82.5 L665.2,82.9 L665.8,83.2 L667.4,84.4 L667.8,83.8 L668.8,84.9 L669.8,84.3 L670.6,85.2 L671.8,85.9 L672.5,86.2 L673.2,86.7 L674.0,86.4 L675.2,86.1 L675.7,86.0 L676.7,86.9 L677.4,87.4 L677.8,87.3 L679.0,87.4 L679.9,88.5 L680.3,87.5 L680.9,88.1 L681.7,87.8 L682.3,87.9 L682.8,88.7 L683.1,89.5" stroke="#3DBE6C" stroke-width="4.3"/>
<path d="M445.9,5.9 L446.3,6.8 L446.2,7.1 L446.8,8.2 L448.0,9.5 L447.9,10.1 L447.6,10.9 L448.6,11.3 L448.7,11.6 L449.1,13.1 L449.5,13.9 L449.3,13.9 L450.3,14.9 L450.3,15.4 L451.3,16.0 L451.2,16.9 L451.7,18.5 L452.4,18.2 L452.9,19.6 L452.9,21.4 L453.4,20.9 L453.7,21.9 L454.0,22.8 L454.8,23.8 L454.7,25.5 L455.2,25.1 L455.8,26.1 L456.1,26.6 L457.1,27.1 L456.8,27.9 L457.3,28.3 L457.9,29.3 L458.2,30.2 L458.7,30.0 L459.3,31.1 L459.7,31.7 L460.0,32.8 L459.7,32.8 L460.4,34.8 L460.5,35.3 L461.5,35.9 L461.7,36.2 L461.9,37.3 L462.3,38.3 L462.4,38.4 L462.7,39.7 L462.7,39.8 L463.3,40.9 L463.6,40.7 L463.8,42.6 L464.4,42.6 L464.4,44.5 L464.8,45.5 L465.2,45.3 L465.4,46.4 L465.4,47.9 L465.7,47.6 L466.0,48.5 L466.6,49.9 L467.0,50.7 L466.9,51.8 L467.1,52.0 L467.5,53.0 L468.1,53.6 L468.2,54.6 L468.1,54.9 L468.6,56.4 L469.0,57.2 L469.2,57.5 L469.6,58.1 L469.5,59.1 L469.8,59.8 L470.3,60.6 L470.8,61.2 L471.0,61.6 L471.5,62.7 L471.9,62.6 L472.0,64.7 L472.0,65.2 L472.9,66.1 L472.9,66.9 L473.7,67.1 L474.2,68.2 L474.4,68.7 L474.9,69.7 L475.4,70.5 L475.5,70.9 L476.3,71.6 L476.6,72.7 L477.0,72.2 L477.5,74.0 L478.0,74.3 L478.7,75.3 L478.8,75.7 L479.5,76.2 L479.7,78.1 L480.7,78.3 L481.2,78.7 L480.9,79.4 L482.2,79.9 L482.2,81.0 L483.5,80.9 L483.8,82.1 L484.4,82.7 L485.1,82.9 L485.8,82.1 L486.4,84.2 L487.2,83.3 L488.1,83.3 L488.6,82.0 L489.1,81.1 L489.8,81.9 L490.0,81.1 L491.4,81.1 L491.8,79.7 L492.3,79.0 L493.6,79.7 L494.0,78.8 L495.1,77.3 L496.0,75.9 L496.0,76.6 L497.0,76.8 L497.6,75.5 L497.9,75.4 L498.3,74.3 L498.7,73.4 L499.1,73.8 L499.8,71.3 L500.5,71.6 L501.1,71.7 L501.6,70.2 L502.0,69.7 L502.7,69.2 L504.0,68.7 L503.7,68.8 L504.6,67.8 L505.2,67.4 L505.9,67.0 L506.7,66.4 L507.2,65.2 L507.9,65.1 L508.9,63.9 L509.6,64.8 L510.5,62.7 L511.0,63.1 L511.8,62.6 L512.8,62.3 L513.0,62.2 L514.0,61.8 L514.7,61.1 L515.3,61.6 L516.1,60.6 L517.4,61.5 L517.8,62.5 L518.2,63.1 L519.3,63.2 L520.2,63.4 L521.1,63.7 L521.5,63.5 L522.6,65.3 L523.3,65.3 L524.3,65.8 L525.2,65.3 L525.7,66.3 L526.3,66.5 L526.9,66.9 L527.6,69.0 L528.9,68.5 L529.4,68.6 L529.4,68.8 L530.7,70.8 L531.4,70.3 L532.0,70.8 L532.4,71.6 L533.2,71.8 L533.7,72.1 L534.5,73.3 L535.0,73.9 L535.6,73.2 L536.3,72.9 L537.1,72.9 L537.8,71.9 L537.9,71.4 L539.0,70.3 L540.2,70.2 L540.1,69.3 L541.1,67.8 L541.4,68.1 L541.5,68.3 L542.4,67.0 L543.0,66.9 L543.6,66.3 L544.1,65.0 L544.6,64.9 L544.6,65.2 L545.8,63.2 L546.1,63.1 L547.1,62.1 L547.7,61.3 L548.2,61.0 L548.9,60.7 L549.6,59.8 L550.4,59.7 L551.0,58.6 L551.5,57.6 L552.0,57.7 L552.7,56.6 L553.0,55.6 L554.0,56.1 L554.6,54.5 L555.1,54.6 L555.6,54.0 L556.4,52.9 L556.8,53.0 L557.8,51.7 L558.1,51.9 L559.1,50.8 L559.9,50.2 L559.9,50.2 L560.7,49.4 L561.4,48.2 L561.7,48.1 L562.9,47.3 L563.5,47.3 L563.5,46.9 L564.4,46.0 L564.4,46.2 L565.2,45.9 L565.9,45.1 L567.0,44.1 L568.0,44.5 L568.7,43.6 L569.7,43.2 L570.5,44.0 L571.5,44.0 L572.0,43.7 L572.7,42.9 L573.8,43.7 L574.2,42.9 L575.3,43.6 L575.6,43.7 L577.1,43.5 L577.7,43.5 L578.3,44.3 L580.0,44.1 L580.2,44.6 L581.0,44.8 L582.1,44.2 L582.5,44.7 L583.8,44.9 L584.8,44.1 L585.4,44.3 L586.1,44.5 L586.6,44.1 L587.3,44.0 L588.1,43.4 L589.1,43.0 L590.1,42.6 L590.8,42.7 L591.2,42.1 L592.0,41.6 L593.0,42.1 L593.9,41.6 L594.8,40.0 L594.9,40.5 L595.6,40.2 L597.0,39.6 L597.5,38.9 L598.3,38.5 L598.9,38.0 L600.1,37.5 L600.7,36.8 L601.2,36.3 L602.1,36.8 L603.0,35.9 L603.9,35.6 L604.6,35.5 L605.4,34.0 L605.8,35.1 L606.8,35.5 L607.6,34.0 L608.8,34.3 L609.8,34.1 L610.2,34.0 L611.0,33.4 L611.9,33.3 L613.0,33.1 L613.8,33.0 L614.8,32.0 L615.4,33.2 L616.0,33.5 L617.1,33.6 L618.1,33.3 L618.7,32.5 L619.5,32.8 L620.4,32.8 L621.9,32.3 L622.2,32.8 L622.7,33.4 L623.5,32.5 L624.3,33.0 L624.5,33.2 L625.5,32.9 L626.6,33.4 L627.3,34.4 L628.2,33.3 L629.1,33.7 L629.5,33.2 L630.4,34.9 L631.3,34.1 L631.9,34.8 L632.8,35.2 L633.7,35.4 L634.2,35.0 L634.9,34.9 L635.4,34.9 L636.3,35.1 L637.6,35.7 L638.4,36.2 L639.1,36.5 L639.6,36.7 L640.5,36.3 L641.7,37.8 L642.1,37.9 L643.4,37.0 L644.1,37.8 L645.1,37.8 L645.4,38.3 L646.6,38.8 L647.3,39.2 L647.7,39.0 L648.7,39.7 L649.5,39.8 L650.3,40.8 L650.6,40.2 L652.4,40.6 L652.3,40.9 L653.2,40.9 L654.4,42.2 L655.3,42.1 L656.2,42.3 L656.6,42.5 L657.7,42.7 L658.3,43.0 L658.9,43.1 L660.0,43.7 L660.8,44.8 L661.6,44.5 L662.0,44.3 L663.1,44.7 L663.8,45.0 L664.4,45.7 L665.2,45.8 L665.9,46.5 L666.9,47.6 L667.7,47.1 L668.6,48.0 L669.5,48.5 L670.0,49.7 L671.5,49.1 L671.6,49.6 L672.7,48.9 L673.3,49.7 L674.1,51.3 L674.9,50.4 L675.6,51.8 L675.8,52.0 L676.8,52.0 L677.1,52.2 L677.9,51.8 L679.1,52.9 L680.0,53.0 L680.5,53.9 L681.6,53.7 L682.2,54.4 L682.8,54.7 L683.1,54.9" stroke="#63639E" stroke-width="4.3"/>
</g>
<line x1="486.8" y1="79" x2="494" y2="215.4" stroke="#000" stroke-width="3.5" stroke-dasharray="9 6.9"/>
<line x1="535" y1="52" x2="541.7" y2="208.7" stroke="#000" stroke-width="3.5" stroke-dasharray="9 6.9"/>
<line x1="581.4" y1="31.8" x2="588.4" y2="181.7" stroke="#000" stroke-width="3.5" stroke-dasharray="9 6.9"/>
<text x="479.9" y="66.7" font-size="9.4" text-anchor="start" font-weight="normal" fill="#231f20" >X</text>
<text x="486.4" y="68.8" font-size="9.4" text-anchor="start" font-weight="normal" fill="#231f20" >B</text>
<text x="525.7" y="44.7" font-size="9.4" text-anchor="start" font-weight="normal" fill="#231f20" >X</text>
<text x="532.6" y="44.7" font-size="9.4" text-anchor="start" font-weight="normal" fill="#231f20" >'</text>
<text x="534.4" y="46.7" font-size="9.4" text-anchor="start" font-weight="normal" fill="#231f20" >B</text>
<text x="572.6" y="24.8" font-size="9.4" text-anchor="start" font-weight="normal" fill="#231f20" >X</text>
<text x="578.9" y="24.6" font-size="9.4" text-anchor="start" font-weight="normal" fill="#231f20" >"</text>
<text x="582.7" y="26.9" font-size="9.4" text-anchor="start" font-weight="normal" fill="#231f20" >B</text>
<rect x="415.0" y="8.5" width="267.79999999999995" height="216.0" fill="none" stroke="#000" stroke-width="1.5"/>
<rect x="628.7" y="18.4" width="48.2" height="64.6" fill="#fff" stroke="#777" stroke-width="0.8"/>
<line x1="634.5" y1="25.4" x2="647.5" y2="25.4" stroke="#EE0000" stroke-width="3.4" stroke-linecap="round"/>
<text x="674.5" y="29.0" font-size="10" text-anchor="end" font-weight="normal" fill="#231f20" >66 T</text>
<line x1="634.5" y1="38.0" x2="647.5" y2="38.0" stroke="#2E6398" stroke-width="3.4" stroke-linecap="round"/>
<text x="674.5" y="41.6" font-size="10" text-anchor="end" font-weight="normal" fill="#231f20" >41 T</text>
<line x1="634.5" y1="50.6" x2="647.5" y2="50.6" stroke="#FFBE14" stroke-width="3.4" stroke-linecap="round"/>
<text x="674.5" y="54.199999999999996" font-size="10" text-anchor="end" font-weight="normal" fill="#231f20" >0 T</text>
<line x1="634.5" y1="63.2" x2="647.5" y2="63.2" stroke="#3DBE6C" stroke-width="3.4" stroke-linecap="round"/>
<text x="674.5" y="66.8" font-size="10" text-anchor="end" font-weight="normal" fill="#231f20" >-41 T</text>
<line x1="634.5" y1="75.8" x2="647.5" y2="75.8" stroke="#63639E" stroke-width="3.4" stroke-linecap="round"/>
<text x="674.5" y="79.39999999999999" font-size="10" text-anchor="end" font-weight="normal" fill="#231f20" >-66 T</text>
<line x1="427.9" y1="224.5" x2="427.9" y2="222.5" stroke="#000" stroke-width="1.2"/>
<line x1="441.4" y1="224.5" x2="441.4" y2="222.5" stroke="#000" stroke-width="1.2"/>
<line x1="454.9" y1="224.5" x2="454.9" y2="222.5" stroke="#000" stroke-width="1.2"/>
<line x1="468.4" y1="224.5" x2="468.4" y2="222.5" stroke="#000" stroke-width="1.2"/>
<line x1="481.9" y1="224.5" x2="481.9" y2="221.0" stroke="#000" stroke-width="1.2"/>
<line x1="495.4" y1="224.5" x2="495.4" y2="222.5" stroke="#000" stroke-width="1.2"/>
<line x1="508.9" y1="224.5" x2="508.9" y2="222.5" stroke="#000" stroke-width="1.2"/>
<line x1="522.4" y1="224.5" x2="522.4" y2="222.5" stroke="#000" stroke-width="1.2"/>
<line x1="535.9" y1="224.5" x2="535.9" y2="222.5" stroke="#000" stroke-width="1.2"/>
<line x1="549.4" y1="224.5" x2="549.4" y2="221.0" stroke="#000" stroke-width="1.2"/>
<line x1="562.9" y1="224.5" x2="562.9" y2="222.5" stroke="#000" stroke-width="1.2"/>
<line x1="576.4" y1="224.5" x2="576.4" y2="222.5" stroke="#000" stroke-width="1.2"/>
<line x1="589.9" y1="224.5" x2="589.9" y2="222.5" stroke="#000" stroke-width="1.2"/>
<line x1="603.4" y1="224.5" x2="603.4" y2="222.5" stroke="#000" stroke-width="1.2"/>
<line x1="616.9" y1="224.5" x2="616.9" y2="221.0" stroke="#000" stroke-width="1.2"/>
<line x1="630.4" y1="224.5" x2="630.4" y2="222.5" stroke="#000" stroke-width="1.2"/>
<line x1="643.9" y1="224.5" x2="643.9" y2="222.5" stroke="#000" stroke-width="1.2"/>
<line x1="657.4" y1="224.5" x2="657.4" y2="222.5" stroke="#000" stroke-width="1.2"/>
<line x1="670.9" y1="224.5" x2="670.9" y2="222.5" stroke="#000" stroke-width="1.2"/>
<line x1="415.0" y1="24.6" x2="417.0" y2="24.6" stroke="#000" stroke-width="1.2"/>
<line x1="415.0" y1="58.0" x2="419.3" y2="58.0" stroke="#000" stroke-width="1.2"/>
<line x1="415.0" y1="91.4" x2="417.0" y2="91.4" stroke="#000" stroke-width="1.2"/>
<line x1="415.0" y1="124.8" x2="419.3" y2="124.8" stroke="#000" stroke-width="1.2"/>
<line x1="415.0" y1="158.2" x2="417.0" y2="158.2" stroke="#000" stroke-width="1.2"/>
<line x1="415.0" y1="191.5" x2="419.3" y2="191.5" stroke="#000" stroke-width="1.2"/>
<text x="412.0" y="241.2" font-size="10" text-anchor="middle" font-weight="normal" fill="#231f20" >2.30</text>
<text x="479.6" y="241.2" font-size="10" text-anchor="middle" font-weight="normal" fill="#231f20" >2.35</text>
<text x="546.3" y="241.2" font-size="10" text-anchor="middle" font-weight="normal" fill="#231f20" >2.40</text>
<text x="613.5" y="241.2" font-size="10" text-anchor="middle" font-weight="normal" fill="#231f20" >2.45</text>
<text x="664.5" y="241.2" font-size="10" text-anchor="middle" font-weight="normal" fill="#231f20" >2.50</text>
<text x="550.6" y="258.9" font-size="10" text-anchor="middle" font-weight="normal" fill="#231f20" >Energy (eV)</text>
<text x="0" y="0" font-size="10" text-anchor="middle" font-weight="normal" fill="#231f20" transform="translate(384.2,114) rotate(-90)">Transmission (arb. units)</text>
<text x="676.6" y="216.8" font-size="10.2" text-anchor="end" font-weight="normal" fill="#231f20" >Mn:PEPI</text>
<text x="-0.3" y="266.1" font-size="10" text-anchor="start" font-weight="bold" fill="#000" >c</text>
<g clip-path="url(#cc)" fill="none" stroke-linejoin="round">
<path d="M50.3,392.2 L50.4,392.9 L50.9,392.5 L51.3,392.3 L51.6,392.3 L52.5,391.8 L53.2,392.6 L54.4,391.8 L55.6,392.0 L56.5,392.3 L57.8,391.7 L58.5,392.5 L59.3,391.7 L60.0,392.2 L60.6,392.2 L61.3,391.9 L61.8,391.9 L62.7,392.3 L63.4,392.6 L64.3,391.9 L65.3,392.2 L66.0,391.7 L66.8,391.6 L67.9,392.3 L68.9,392.2 L69.6,392.2 L70.6,391.9 L71.4,392.6 L72.0,391.5 L73.0,392.1 L74.2,391.8 L75.0,391.9 L75.9,391.7 L76.7,391.9 L77.7,392.5 L78.1,392.0 L79.2,392.1 L80.2,392.0 L81.0,391.5 L81.5,392.3 L82.7,391.5 L83.6,391.9 L83.9,392.0 L85.0,392.0 L85.9,391.5 L86.7,391.6 L87.9,391.5 L88.3,392.3 L89.7,391.8 L90.2,391.3 L90.9,391.8 L92.2,391.3 L92.8,391.5 L93.6,391.7 L94.7,391.4 L95.4,391.8 L96.0,391.5 L96.6,391.8 L97.5,391.3 L98.3,391.2 L98.9,391.3 L100.0,391.4 L100.6,391.0 L101.2,391.9 L102.4,390.9 L103.3,391.5 L104.0,391.0 L105.2,391.0 L106.2,391.5 L107.0,391.1 L107.8,391.0 L108.6,391.2 L109.4,391.4 L110.6,390.9 L111.0,391.3 L111.8,391.0 L112.3,391.3 L113.2,391.1 L113.6,391.1 L114.5,390.9 L115.1,391.5 L116.0,391.0 L117.1,390.4 L118.2,390.9 L119.1,390.4 L119.6,390.5 L120.5,390.4 L121.0,391.1 L121.9,390.6 L122.9,390.4 L124.0,390.5 L124.9,390.3 L125.5,391.2 L126.6,390.9 L127.6,390.9 L128.4,390.3 L129.1,391.1 L130.4,391.1 L131.0,390.5 L131.8,390.9 L133.2,391.1 L134.3,391.4 L134.9,392.2 L135.9,392.2 L136.8,393.7 L137.3,393.5 L138.4,393.4 L139.6,394.1 L140.6,393.4 L141.2,392.8 L142.4,392.8 L143.3,394.0 L144.2,394.6 L145.1,393.8 L146.1,394.9 L146.7,394.2 L147.8,394.2 L148.4,394.1 L149.1,394.2 L150.2,395.1 L150.9,394.6 L151.8,395.4 L152.3,395.3 L153.0,396.3 L154.0,396.6 L154.4,395.9 L155.3,396.4 L156.0,396.6 L157.0,396.5 L158.1,396.8 L159.0,397.0 L160.2,397.0 L160.4,396.7 L161.7,397.1 L162.3,397.1 L162.9,396.8 L163.8,397.4 L164.8,397.6 L165.7,397.7 L166.6,396.8 L167.7,397.3 L168.5,397.2 L169.1,397.2 L169.8,396.8 L170.7,397.0 L171.4,397.2 L172.4,397.8 L173.4,397.2 L174.0,397.1 L174.7,397.1 L175.3,397.1 L176.0,397.2 L177.0,396.7 L177.9,397.2 L178.9,397.1 L180.1,397.4 L180.5,396.8 L181.4,397.3 L182.1,397.0 L182.6,396.6 L183.8,396.6 L184.6,396.4 L185.1,396.1 L186.0,396.6 L187.0,396.5 L187.5,396.0 L188.4,396.7 L189.3,396.7 L190.2,396.3 L191.0,396.3 L191.6,396.7 L192.7,395.8 L193.5,396.1 L194.5,396.4 L194.7,396.1 L196.2,395.6 L196.5,395.9 L197.6,395.9 L198.2,395.6 L199.2,395.9 L200.3,395.8 L200.7,394.9 L201.7,395.6 L202.4,395.3 L203.3,395.0 L204.0,395.5 L204.8,395.8 L205.6,395.4 L206.6,394.9 L207.2,395.3 L208.2,395.0 L209.0,395.3 L209.5,394.7 L210.3,395.2 L211.4,395.3 L212.3,394.9 L213.2,395.2 L213.9,395.1 L214.4,395.0 L215.3,394.5 L216.3,394.9 L217.2,394.7 L217.9,394.8 L218.8,394.2 L219.8,395.0 L220.6,394.2 L221.8,395.0 L222.4,394.4 L223.3,395.3 L224.2,394.7 L225.1,393.8 L225.6,393.9 L226.7,394.2 L227.6,394.1 L228.2,394.2 L228.8,394.8 L229.5,394.5 L230.3,393.8 L230.8,393.9 L232.0,394.0 L233.2,393.8 L234.4,393.8 L235.2,394.3 L235.9,394.1 L236.7,394.1 L237.3,393.4 L237.9,393.8 L237.7,393.6" stroke="#000" stroke-width="1.9"/>
<path d="M50.0,385.5 C51.2,385.1 53.9,383.9 57.1,382.8 C60.3,381.7 65.2,380.2 69.0,378.9 C72.8,377.5 76.7,376.4 80.2,374.7 C83.7,372.9 87.3,370.5 90.1,368.4 C92.9,366.3 95.0,364.3 97.1,362.1 C99.2,359.9 101.1,357.5 102.7,355.1 C104.3,352.8 105.6,350.4 106.9,348.0 C108.2,345.6 109.4,343.3 110.4,341.0 C111.5,338.7 112.3,336.3 113.2,334.0 C114.1,331.7 114.9,329.3 115.6,327.0 C116.3,324.7 116.9,322.5 117.4,320.0 C117.9,317.5 118.2,314.3 118.6,312.0 C119.0,309.7 119.3,307.4 119.6,306.0 C119.9,304.6 120.2,303.1 120.5,303.8 C120.8,304.5 121.2,306.3 121.6,310.0 C121.9,313.7 122.3,322.7 122.6,326.0 C122.9,329.3 123.0,331.7 123.3,330.0 C123.6,328.3 123.9,319.8 124.2,316.0 C124.5,312.2 124.9,308.6 125.3,307.0 C125.7,305.4 126.0,305.8 126.5,306.5 C127.0,307.2 128.0,309.1 128.6,311.0 C129.2,312.9 129.6,315.6 130.0,318.0 C130.4,320.4 130.7,325.5 131.0,325.5 C131.3,325.5 131.5,320.2 131.8,318.0 C132.1,315.8 132.4,313.2 132.8,312.5 C133.2,311.8 133.6,311.9 134.0,314.0 C134.4,316.1 134.9,321.3 135.3,325.0 C135.7,328.7 135.8,332.3 136.2,336.0 C136.6,339.7 137.1,343.4 137.5,347.0 C137.9,350.6 138.3,354.6 138.6,357.4 C138.9,360.1 139.2,362.3 139.5,363.5 C139.8,364.7 140.2,364.3 140.6,364.8 C140.9,365.3 141.1,362.6 141.6,366.5 C142.1,370.4 142.8,380.8 143.4,388.0 C144.0,395.2 144.5,403.3 145.0,410.0 C145.5,416.7 146.1,422.2 146.5,428.0 C146.9,433.8 147.3,441.7 147.7,444.6 C148.1,447.5 148.6,445.2 148.9,445.4 C149.2,445.6 149.5,445.1 149.8,445.6 C150.1,446.1 150.2,446.4 150.6,448.5 C151.0,450.6 151.8,454.6 152.4,458.0 C153.0,461.4 153.7,465.5 154.2,469.0 C154.7,472.5 155.1,476.2 155.4,479.0 C155.8,481.8 156.0,485.3 156.3,486.0 C156.7,486.7 157.0,485.7 157.5,483.0 C158.0,480.3 158.6,473.3 159.2,470.0 C159.8,466.7 160.3,464.4 160.8,463.0 C161.3,461.6 161.8,461.3 162.2,461.4 C162.6,461.5 163.0,462.1 163.4,463.5 C163.8,464.9 164.2,467.8 164.6,470.0 C165.0,472.2 165.4,475.6 165.7,477.0 C166.0,478.4 166.1,478.6 166.4,478.3 C166.7,478.0 167.0,477.2 167.6,475.0 C168.2,472.8 169.1,468.2 170.0,465.0 C170.9,461.8 172.0,458.5 173.0,455.5 C174.0,452.5 175.0,449.6 176.0,447.0 C177.0,444.4 177.8,442.4 179.0,440.0 C180.2,437.6 181.3,435.0 183.0,432.3 C184.7,429.6 186.8,426.5 189.0,424.0 C191.2,421.5 193.7,419.3 196.0,417.4 C198.3,415.4 200.5,413.9 203.0,412.3 C205.5,410.7 208.2,409.4 211.0,408.0 C213.8,406.6 216.7,405.4 220.0,404.2 C223.3,403.0 227.7,401.9 230.7,401.0 C233.7,400.1 236.8,399.3 238.0,399.0" stroke="#EE0000" stroke-width="1.9"/>
</g>
<rect x="57.1" y="288.8" width="174.5" height="211.59999999999997" fill="none" stroke="#000" stroke-width="1.6"/>
<line x1="57.1" y1="482.6" x2="60.9" y2="482.6" stroke="#000" stroke-width="1.3"/>
<text x="48.2" y="486.20000000000005" font-size="10" text-anchor="end" font-weight="normal" fill="#231f20" >-1.0</text>
<line x1="57.1" y1="438.6" x2="60.9" y2="438.6" stroke="#000" stroke-width="1.3"/>
<text x="48.2" y="442.15000000000003" font-size="10" text-anchor="end" font-weight="normal" fill="#231f20" >-0.5</text>
<line x1="57.1" y1="394.5" x2="60.9" y2="394.5" stroke="#000" stroke-width="1.3"/>
<text x="50.8" y="398.1" font-size="10" text-anchor="end" font-weight="normal" fill="#231f20" >0.0</text>
<line x1="57.1" y1="350.4" x2="60.9" y2="350.4" stroke="#000" stroke-width="1.3"/>
<text x="50.8" y="354.05" font-size="10" text-anchor="end" font-weight="normal" fill="#231f20" >0.5</text>
<line x1="57.1" y1="306.4" x2="60.9" y2="306.4" stroke="#000" stroke-width="1.3"/>
<text x="50.8" y="310.0" font-size="10" text-anchor="end" font-weight="normal" fill="#231f20" >1.0</text>
<line x1="57.1" y1="460.6" x2="59.1" y2="460.6" stroke="#000" stroke-width="1.3"/>
<line x1="57.1" y1="416.5" x2="59.1" y2="416.5" stroke="#000" stroke-width="1.3"/>
<line x1="57.1" y1="372.5" x2="59.1" y2="372.5" stroke="#000" stroke-width="1.3"/>
<line x1="57.1" y1="328.4" x2="59.1" y2="328.4" stroke="#000" stroke-width="1.3"/>
<line x1="66.8" y1="500.4" x2="66.8" y2="496.59999999999997" stroke="#000" stroke-width="1.3"/>
<text x="66.8" y="515.7" font-size="10" text-anchor="middle" font-weight="normal" fill="#231f20" >250</text>
<line x1="76.0" y1="500.4" x2="76.0" y2="498.4" stroke="#000" stroke-width="1.3"/>
<line x1="85.2" y1="500.4" x2="85.2" y2="498.4" stroke="#000" stroke-width="1.3"/>
<line x1="94.3" y1="500.4" x2="94.3" y2="498.4" stroke="#000" stroke-width="1.3"/>
<line x1="103.5" y1="500.4" x2="103.5" y2="498.4" stroke="#000" stroke-width="1.3"/>
<line x1="112.7" y1="500.4" x2="112.7" y2="496.59999999999997" stroke="#000" stroke-width="1.3"/>
<text x="112.69999999999999" y="515.7" font-size="10" text-anchor="middle" font-weight="normal" fill="#231f20" >300</text>
<line x1="121.9" y1="500.4" x2="121.9" y2="498.4" stroke="#000" stroke-width="1.3"/>
<line x1="131.1" y1="500.4" x2="131.1" y2="498.4" stroke="#000" stroke-width="1.3"/>
<line x1="140.2" y1="500.4" x2="140.2" y2="498.4" stroke="#000" stroke-width="1.3"/>
<line x1="149.4" y1="500.4" x2="149.4" y2="498.4" stroke="#000" stroke-width="1.3"/>
<line x1="158.6" y1="500.4" x2="158.6" y2="496.59999999999997" stroke="#000" stroke-width="1.3"/>
<text x="158.6" y="515.7" font-size="10" text-anchor="middle" font-weight="normal" fill="#231f20" >350</text>
<line x1="167.8" y1="500.4" x2="167.8" y2="498.4" stroke="#000" stroke-width="1.3"/>
<line x1="177.0" y1="500.4" x2="177.0" y2="498.4" stroke="#000" stroke-width="1.3"/>
<line x1="186.1" y1="500.4" x2="186.1" y2="498.4" stroke="#000" stroke-width="1.3"/>
<line x1="195.3" y1="500.4" x2="195.3" y2="498.4" stroke="#000" stroke-width="1.3"/>
<line x1="204.5" y1="500.4" x2="204.5" y2="496.59999999999997" stroke="#000" stroke-width="1.3"/>
<text x="204.5" y="515.7" font-size="10" text-anchor="middle" font-weight="normal" fill="#231f20" >400</text>
<line x1="213.7" y1="500.4" x2="213.7" y2="498.4" stroke="#000" stroke-width="1.3"/>
<line x1="222.9" y1="500.4" x2="222.9" y2="498.4" stroke="#000" stroke-width="1.3"/>
<text x="140.3" y="532.8" font-size="10" text-anchor="middle" font-weight="normal" fill="#231f20" >Magnetic Field (mT)</text>
<text x="0" y="0" font-size="10" text-anchor="middle" font-weight="normal" fill="#231f20" transform="translate(19.0,387.6) rotate(-90)">EPR signal (norm.)</text>
<line x1="171.4" y1="299.6" x2="179.9" y2="299.6" stroke="#000" stroke-width="3.3" stroke-linecap="round"/>
<line x1="171.4" y1="311.2" x2="179.9" y2="311.2" stroke="#EE0000" stroke-width="3.3" stroke-linecap="round"/>
<text x="186.1" y="303.7" font-size="10" text-anchor="start" font-weight="normal" fill="#231f20" >PEPI</text>
<text x="186.1" y="315.7" font-size="10" text-anchor="start" font-weight="normal" fill="#231f20" >Mn:PEPI</text>
<text x="121.4" y="342.6" font-size="15" text-anchor="middle" font-weight="bold" fill="#1010ff" >*</text>
<text x="130" y="338.20000000000005" font-size="15" text-anchor="middle" font-weight="bold" fill="#1010ff" >*</text>
<text x="136.4" y="377.40000000000003" font-size="15" text-anchor="middle" font-weight="bold" fill="#1010ff" >*</text>
<text x="145.5" y="459.20000000000005" font-size="15" text-anchor="middle" font-weight="bold" fill="#1010ff" >*</text>
<text x="154.4" y="496.5" font-size="15" text-anchor="middle" font-weight="bold" fill="#1010ff" >*</text>
<text x="165.2" y="489.3" font-size="15" text-anchor="middle" font-weight="bold" fill="#1010ff" >*</text>
<text x="244.9" y="302.1" font-size="10.7" text-anchor="start" font-weight="bold" fill="#000" >m</text>
<text x="254.0" y="304.3" font-size="8.6" text-anchor="start" font-weight="bold" fill="#000" >s</text>
<text x="292.4" y="302.2" font-size="10.7" text-anchor="start" font-weight="bold" fill="#000" >m</text>
<text x="301.3" y="304.0" font-size="7.7" text-anchor="start" font-weight="bold" fill="#000" >I</text>
<line x1="236.8" y1="344.45" x2="266" y2="344.45" stroke="#000" stroke-width="2.4"/>
<line x1="236.8" y1="459.8" x2="266" y2="459.8" stroke="#000" stroke-width="2.4"/>
<text x="237.2" y="341.6" font-size="10" text-anchor="start" font-weight="normal" fill="#231f20" >+1/2</text>
<text x="236.8" y="457.0" font-size="10" text-anchor="start" font-weight="normal" fill="#231f20" >-1/2</text>
<line x1="284.4" y1="308.7" x2="315.8" y2="308.7" stroke="#000" stroke-width="2"/>
<line x1="268.8" y1="344.2" x2="281.6" y2="309.09999999999997" stroke="#000" stroke-width="0.95"/>
<text x="337.3" y="312.2" font-size="10" text-anchor="end" font-weight="normal" fill="#231f20" >+5/2</text>
<line x1="284.4" y1="322.7" x2="315.8" y2="322.7" stroke="#000" stroke-width="2"/>
<line x1="268.8" y1="344.2" x2="281.6" y2="323.09999999999997" stroke="#000" stroke-width="0.95"/>
<text x="337.3" y="326.2" font-size="10" text-anchor="end" font-weight="normal" fill="#231f20" >+3/2</text>
<line x1="284.4" y1="337.0" x2="315.8" y2="337.0" stroke="#000" stroke-width="2"/>
<line x1="268.8" y1="344.2" x2="281.6" y2="337.4" stroke="#000" stroke-width="0.95"/>
<text x="337.3" y="340.5" font-size="10" text-anchor="end" font-weight="normal" fill="#231f20" >+1/2</text>
<line x1="284.4" y1="351.6" x2="315.8" y2="351.6" stroke="#000" stroke-width="2"/>
<line x1="268.8" y1="344.2" x2="281.6" y2="352.0" stroke="#000" stroke-width="0.95"/>
<text x="337.3" y="355.1" font-size="10" text-anchor="end" font-weight="normal" fill="#231f20" >-1/2</text>
<line x1="284.4" y1="365.9" x2="315.8" y2="365.9" stroke="#000" stroke-width="2"/>
<line x1="268.8" y1="344.2" x2="281.6" y2="366.29999999999995" stroke="#000" stroke-width="0.95"/>
<text x="337.3" y="369.4" font-size="10" text-anchor="end" font-weight="normal" fill="#231f20" >-3/2</text>
<line x1="284.4" y1="380.1" x2="315.8" y2="380.1" stroke="#000" stroke-width="2"/>
<line x1="268.8" y1="344.2" x2="281.6" y2="380.5" stroke="#000" stroke-width="0.95"/>
<text x="337.3" y="383.6" font-size="10" text-anchor="end" font-weight="normal" fill="#231f20" >-5/2</text>
<line x1="284.4" y1="423.8" x2="315.8" y2="423.8" stroke="#000" stroke-width="2"/>
<line x1="268.8" y1="459.6" x2="281.6" y2="423.40000000000003" stroke="#000" stroke-width="0.95"/>
<text x="337.3" y="427.3" font-size="10" text-anchor="end" font-weight="normal" fill="#231f20" >-5/2</text>
<line x1="284.4" y1="438.2" x2="315.8" y2="438.2" stroke="#000" stroke-width="2"/>
<line x1="268.8" y1="459.6" x2="281.6" y2="437.8" stroke="#000" stroke-width="0.95"/>
<text x="337.3" y="441.7" font-size="10" text-anchor="end" font-weight="normal" fill="#231f20" >-3/2</text>
<line x1="284.4" y1="452.8" x2="315.8" y2="452.8" stroke="#000" stroke-width="2"/>
<line x1="268.8" y1="459.6" x2="281.6" y2="452.40000000000003" stroke="#000" stroke-width="0.95"/>
<text x="337.3" y="456.3" font-size="10" text-anchor="end" font-weight="normal" fill="#231f20" >-1/2</text>
<line x1="284.4" y1="467.0" x2="315.8" y2="467.0" stroke="#000" stroke-width="2"/>
<line x1="268.8" y1="459.6" x2="281.6" y2="466.6" stroke="#000" stroke-width="0.95"/>
<text x="337.3" y="470.5" font-size="10" text-anchor="end" font-weight="normal" fill="#231f20" >+1/2</text>
<line x1="284.4" y1="481.0" x2="315.8" y2="481.0" stroke="#000" stroke-width="2"/>
<line x1="268.8" y1="459.6" x2="281.6" y2="480.6" stroke="#000" stroke-width="0.95"/>
<text x="337.3" y="484.5" font-size="10" text-anchor="end" font-weight="normal" fill="#231f20" >+3/2</text>
<line x1="284.4" y1="495.1" x2="315.8" y2="495.1" stroke="#000" stroke-width="2"/>
<line x1="268.8" y1="459.6" x2="281.6" y2="494.70000000000005" stroke="#000" stroke-width="0.95"/>
<text x="337.3" y="498.6" font-size="10" text-anchor="end" font-weight="normal" fill="#231f20" >+5/2</text>
<line x1="288.4" y1="316.40000000000003" x2="288.4" y2="487.4" stroke="#0000F5" stroke-width="2.1"/>
<path d="M288.4,310.3 L285.7,316.90000000000003 L291.09999999999997,316.90000000000003 Z" fill="#0000F5"/>
<path d="M288.4,493.5 L285.7,486.9 L291.09999999999997,486.9 Z" fill="#0000F5"/>
<line x1="293.1" y1="330.40000000000003" x2="293.1" y2="473.29999999999995" stroke="#0000F5" stroke-width="2.1"/>
<path d="M293.1,324.3 L290.40000000000003,330.90000000000003 L295.8,330.90000000000003 Z" fill="#0000F5"/>
<path d="M293.1,479.4 L290.40000000000003,472.79999999999995 L295.8,472.79999999999995 Z" fill="#0000F5"/>
<line x1="297.8" y1="344.70000000000005" x2="297.8" y2="459.29999999999995" stroke="#0000F5" stroke-width="2.1"/>
<path d="M297.8,338.6 L295.1,345.20000000000005 L300.5,345.20000000000005 Z" fill="#0000F5"/>
<path d="M297.8,465.4 L295.1,458.79999999999995 L300.5,458.79999999999995 Z" fill="#0000F5"/>
<line x1="302.4" y1="359.30000000000007" x2="302.4" y2="445.09999999999997" stroke="#0000F5" stroke-width="2.1"/>
<path d="M302.4,353.20000000000005 L299.7,359.80000000000007 L305.09999999999997,359.80000000000007 Z" fill="#0000F5"/>
<path d="M302.4,451.2 L299.7,444.59999999999997 L305.09999999999997,444.59999999999997 Z" fill="#0000F5"/>
<line x1="307.0" y1="373.6" x2="307.0" y2="430.49999999999994" stroke="#0000F5" stroke-width="2.1"/>
<path d="M307.0,367.5 L304.3,374.1 L309.7,374.1 Z" fill="#0000F5"/>
<path d="M307.0,436.59999999999997 L304.3,429.99999999999994 L309.7,429.99999999999994 Z" fill="#0000F5"/>
<line x1="311.7" y1="387.80000000000007" x2="311.7" y2="416.09999999999997" stroke="#0000F5" stroke-width="2.1"/>
<path d="M311.7,381.70000000000005 L309.0,388.30000000000007 L314.4,388.30000000000007 Z" fill="#0000F5"/>
<path d="M311.7,422.2 L309.0,415.59999999999997 L314.4,415.59999999999997 Z" fill="#0000F5"/>
<text x="373.3" y="266.4" font-size="10" text-anchor="start" font-weight="bold" fill="#000" >d</text>
<rect x="420.9" y="290.9" width="261.6" height="209.5" fill="none" stroke="#000" stroke-width="1.6"/>
<line x1="420.9" y1="483.0" x2="422.9" y2="483.0" stroke="#000" stroke-width="1.3"/>
<line x1="420.9" y1="465.6" x2="424.7" y2="465.6" stroke="#000" stroke-width="1.3"/>
<line x1="420.9" y1="448.1" x2="422.9" y2="448.1" stroke="#000" stroke-width="1.3"/>
<line x1="420.9" y1="430.6" x2="424.7" y2="430.6" stroke="#000" stroke-width="1.3"/>
<line x1="420.9" y1="413.1" x2="422.9" y2="413.1" stroke="#000" stroke-width="1.3"/>
<line x1="420.9" y1="395.6" x2="424.7" y2="395.6" stroke="#000" stroke-width="1.3"/>
<line x1="420.9" y1="378.1" x2="422.9" y2="378.1" stroke="#000" stroke-width="1.3"/>
<line x1="420.9" y1="360.6" x2="424.7" y2="360.6" stroke="#000" stroke-width="1.3"/>
<line x1="420.9" y1="343.1" x2="422.9" y2="343.1" stroke="#000" stroke-width="1.3"/>
<line x1="420.9" y1="325.7" x2="424.7" y2="325.7" stroke="#000" stroke-width="1.3"/>
<line x1="420.9" y1="308.2" x2="422.9" y2="308.2" stroke="#000" stroke-width="1.3"/>
<text x="411.6" y="504.725" font-size="10" text-anchor="end" font-weight="normal" fill="#231f20" >-1.5</text>
<text x="411.6" y="469.75" font-size="10" text-anchor="end" font-weight="normal" fill="#231f20" >-1.0</text>
<text x="411.6" y="434.77500000000003" font-size="10" text-anchor="end" font-weight="normal" fill="#231f20" >-0.5</text>
<text x="414.6" y="399.8" font-size="10" text-anchor="end" font-weight="normal" fill="#231f20" >0.0</text>
<text x="414.6" y="364.825" font-size="10" text-anchor="end" font-weight="normal" fill="#231f20" >0.5</text>
<text x="414.6" y="329.85" font-size="10" text-anchor="end" font-weight="normal" fill="#231f20" >1.0</text>
<text x="414.6" y="294.875" font-size="10" text-anchor="end" font-weight="normal" fill="#231f20" >1.5</text>
<line x1="437.2" y1="500.4" x2="437.2" y2="498.4" stroke="#000" stroke-width="1.3"/>
<line x1="453.6" y1="500.4" x2="453.6" y2="496.59999999999997" stroke="#000" stroke-width="1.3"/>
<line x1="470.0" y1="500.4" x2="470.0" y2="498.4" stroke="#000" stroke-width="1.3"/>
<line x1="486.3" y1="500.4" x2="486.3" y2="496.59999999999997" stroke="#000" stroke-width="1.3"/>
<line x1="502.7" y1="500.4" x2="502.7" y2="498.4" stroke="#000" stroke-width="1.3"/>
<line x1="519.0" y1="500.4" x2="519.0" y2="496.59999999999997" stroke="#000" stroke-width="1.3"/>
<line x1="535.4" y1="500.4" x2="535.4" y2="498.4" stroke="#000" stroke-width="1.3"/>
<line x1="551.7" y1="500.4" x2="551.7" y2="496.59999999999997" stroke="#000" stroke-width="1.3"/>
<line x1="568.1" y1="500.4" x2="568.1" y2="498.4" stroke="#000" stroke-width="1.3"/>
<line x1="584.4" y1="500.4" x2="584.4" y2="496.59999999999997" stroke="#000" stroke-width="1.3"/>
<line x1="600.8" y1="500.4" x2="600.8" y2="498.4" stroke="#000" stroke-width="1.3"/>
<line x1="617.1" y1="500.4" x2="617.1" y2="496.59999999999997" stroke="#000" stroke-width="1.3"/>
<line x1="633.5" y1="500.4" x2="633.5" y2="498.4" stroke="#000" stroke-width="1.3"/>
<line x1="649.8" y1="500.4" x2="649.8" y2="496.59999999999997" stroke="#000" stroke-width="1.3"/>
<line x1="666.2" y1="500.4" x2="666.2" y2="498.4" stroke="#000" stroke-width="1.3"/>
<text x="419.20000000000005" y="515.8" font-size="10" text-anchor="middle" font-weight="normal" fill="#231f20" >-8</text>
<text x="451.90000000000003" y="515.8" font-size="10" text-anchor="middle" font-weight="normal" fill="#231f20" >-6</text>
<text x="484.6000000000001" y="515.8" font-size="10" text-anchor="middle" font-weight="normal" fill="#231f20" >-4</text>
<text x="517.3" y="515.8" font-size="10" text-anchor="middle" font-weight="normal" fill="#231f20" >-2</text>
<text x="551.1" y="515.8" font-size="10" text-anchor="middle" font-weight="normal" fill="#231f20" >0</text>
<text x="583.8000000000001" y="515.8" font-size="10" text-anchor="middle" font-weight="normal" fill="#231f20" >2</text>
<text x="616.5" y="515.8" font-size="10" text-anchor="middle" font-weight="normal" fill="#231f20" >4</text>
<text x="649.2" y="515.8" font-size="10" text-anchor="middle" font-weight="normal" fill="#231f20" >6</text>
<text x="681.9" y="515.8" font-size="10" text-anchor="middle" font-weight="normal" fill="#231f20" >8</text>
<text x="547.0" y="533.0" font-size="10" text-anchor="middle" font-weight="normal" fill="#231f20" >Magnetic Field (T)</text>
<text x="0" y="0" font-size="9.8" text-anchor="middle" font-weight="normal" fill="#231f20" transform="translate(383.2,394.9) rotate(-90)">Magnetization (emu/mg)</text>
<text x="676.4" y="490.9" font-size="10.2" text-anchor="end" font-weight="normal" fill="#231f20" >Mn:PEPI</text>
<path d="M437.2,483.1 L453.6,480.7 L470.0,477.9 L486.3,473.0 L502.7,464.9 L519.0,451.1 L535.4,428.0 L551.7,395.6 L568.1,363.4 L584.4,339.5 L600.8,325.7 L617.1,318.2 L633.5,312.8 L649.8,309.8 L666.2,307.5" fill="none" stroke="#000000" stroke-width="1.7" stroke-linejoin="round"/>
<rect x="434.9" y="480.8" width="4.6" height="4.6" fill="#fff" stroke="#000000" stroke-width="1.7"/>
<rect x="451.3" y="478.4" width="4.6" height="4.6" fill="#fff" stroke="#000000" stroke-width="1.7"/>
<rect x="467.7" y="475.6" width="4.6" height="4.6" fill="#fff" stroke="#000000" stroke-width="1.7"/>
<rect x="484.0" y="470.7" width="4.6" height="4.6" fill="#fff" stroke="#000000" stroke-width="1.7"/>
<rect x="500.4" y="462.6" width="4.6" height="4.6" fill="#fff" stroke="#000000" stroke-width="1.7"/>
<rect x="516.7" y="448.8" width="4.6" height="4.6" fill="#fff" stroke="#000000" stroke-width="1.7"/>
<rect x="533.1" y="425.7" width="4.6" height="4.6" fill="#fff" stroke="#000000" stroke-width="1.7"/>
<rect x="549.4" y="393.3" width="4.6" height="4.6" fill="#fff" stroke="#000000" stroke-width="1.7"/>
<rect x="565.8" y="361.1" width="4.6" height="4.6" fill="#fff" stroke="#000000" stroke-width="1.7"/>
<rect x="582.1" y="337.2" width="4.6" height="4.6" fill="#fff" stroke="#000000" stroke-width="1.7"/>
<rect x="598.5" y="323.4" width="4.6" height="4.6" fill="#fff" stroke="#000000" stroke-width="1.7"/>
<rect x="614.8" y="315.9" width="4.6" height="4.6" fill="#fff" stroke="#000000" stroke-width="1.7"/>
<rect x="631.2" y="310.5" width="4.6" height="4.6" fill="#fff" stroke="#000000" stroke-width="1.7"/>
<rect x="647.5" y="307.5" width="4.6" height="4.6" fill="#fff" stroke="#000000" stroke-width="1.7"/>
<rect x="663.9" y="305.2" width="4.6" height="4.6" fill="#fff" stroke="#000000" stroke-width="1.7"/>
<path d="M437.2,464.9 L453.6,459.5 L470.0,452.7 L486.3,445.1 L502.7,435.3 L519.0,423.2 L535.4,409.6 L551.7,395.6 L568.1,381.6 L584.4,367.9 L600.8,356.5 L617.1,346.0 L633.5,338.3 L649.8,331.7 L666.2,326.1" fill="none" stroke="#EE0000" stroke-width="1.7" stroke-linejoin="round"/>
<circle cx="437.2" cy="464.9" r="2.65" fill="#fff" stroke="#EE0000" stroke-width="1.7"/>
<circle cx="453.6" cy="459.5" r="2.65" fill="#fff" stroke="#EE0000" stroke-width="1.7"/>
<circle cx="470.0" cy="452.7" r="2.65" fill="#fff" stroke="#EE0000" stroke-width="1.7"/>
<circle cx="486.3" cy="445.1" r="2.65" fill="#fff" stroke="#EE0000" stroke-width="1.7"/>
<circle cx="502.7" cy="435.3" r="2.65" fill="#fff" stroke="#EE0000" stroke-width="1.7"/>
<circle cx="519.0" cy="423.2" r="2.65" fill="#fff" stroke="#EE0000" stroke-width="1.7"/>
<circle cx="535.4" cy="409.6" r="2.65" fill="#fff" stroke="#EE0000" stroke-width="1.7"/>
<circle cx="551.7" cy="395.6" r="2.65" fill="#fff" stroke="#EE0000" stroke-width="1.7"/>
<circle cx="568.1" cy="381.6" r="2.65" fill="#fff" stroke="#EE0000" stroke-width="1.7"/>
<circle cx="584.4" cy="367.9" r="2.65" fill="#fff" stroke="#EE0000" stroke-width="1.7"/>
<circle cx="600.8" cy="356.5" r="2.65" fill="#fff" stroke="#EE0000" stroke-width="1.7"/>
<circle cx="617.1" cy="346.0" r="2.65" fill="#fff" stroke="#EE0000" stroke-width="1.7"/>
<circle cx="633.5" cy="338.3" r="2.65" fill="#fff" stroke="#EE0000" stroke-width="1.7"/>
<circle cx="649.8" cy="331.7" r="2.65" fill="#fff" stroke="#EE0000" stroke-width="1.7"/>
<circle cx="666.2" cy="326.1" r="2.65" fill="#fff" stroke="#EE0000" stroke-width="1.7"/>
<path d="M437.2,404.6 L453.6,403.3 L470.0,401.9 L486.3,400.1 L502.7,398.9 L519.0,397.9 L535.4,396.7 L551.7,395.6 L568.1,393.6 L584.4,392.4 L600.8,391.4 L617.1,390.0 L633.5,388.7 L649.8,387.0 L666.2,385.8" fill="none" stroke="#0000EE" stroke-width="1.7" stroke-linejoin="round"/>
<path d="M437.2,401.4 L440.6,406.9 L433.9,406.9 Z" fill="#fff" stroke="#0000EE" stroke-width="1.5" stroke-linejoin="miter"/>
<path d="M453.6,400.1 L456.9,405.6 L450.3,405.6 Z" fill="#fff" stroke="#0000EE" stroke-width="1.5" stroke-linejoin="miter"/>
<path d="M470.0,398.7 L473.3,404.2 L466.7,404.2 Z" fill="#fff" stroke="#0000EE" stroke-width="1.5" stroke-linejoin="miter"/>
<path d="M486.3,396.9 L489.6,402.4 L483.0,402.4 Z" fill="#fff" stroke="#0000EE" stroke-width="1.5" stroke-linejoin="miter"/>
<path d="M502.7,395.7 L506.0,401.2 L499.4,401.2 Z" fill="#fff" stroke="#0000EE" stroke-width="1.5" stroke-linejoin="miter"/>
<path d="M519.0,394.7 L522.3,400.2 L515.7,400.2 Z" fill="#fff" stroke="#0000EE" stroke-width="1.5" stroke-linejoin="miter"/>
<path d="M535.4,393.5 L538.6,399.0 L532.1,399.0 Z" fill="#fff" stroke="#0000EE" stroke-width="1.5" stroke-linejoin="miter"/>
<path d="M551.7,392.4 L555.0,397.9 L548.4,397.9 Z" fill="#fff" stroke="#0000EE" stroke-width="1.5" stroke-linejoin="miter"/>
<path d="M568.1,390.4 L571.4,395.9 L564.8,395.9 Z" fill="#fff" stroke="#0000EE" stroke-width="1.5" stroke-linejoin="miter"/>
<path d="M584.4,389.2 L587.7,394.7 L581.1,394.7 Z" fill="#fff" stroke="#0000EE" stroke-width="1.5" stroke-linejoin="miter"/>
<path d="M600.8,388.2 L604.0,393.7 L597.5,393.7 Z" fill="#fff" stroke="#0000EE" stroke-width="1.5" stroke-linejoin="miter"/>
<path d="M617.1,386.8 L620.4,392.3 L613.8,392.3 Z" fill="#fff" stroke="#0000EE" stroke-width="1.5" stroke-linejoin="miter"/>
<path d="M633.5,385.5 L636.8,391.0 L630.2,391.0 Z" fill="#fff" stroke="#0000EE" stroke-width="1.5" stroke-linejoin="miter"/>
<path d="M649.8,383.8 L653.1,389.3 L646.5,389.3 Z" fill="#fff" stroke="#0000EE" stroke-width="1.5" stroke-linejoin="miter"/>
<path d="M666.2,382.6 L669.5,388.1 L662.9,388.1 Z" fill="#fff" stroke="#0000EE" stroke-width="1.5" stroke-linejoin="miter"/>
<line x1="433.6" y1="302.2" x2="442.8" y2="302.2" stroke="#000000" stroke-width="2.8" stroke-linecap="round"/>
<rect x="435.9" y="299.9" width="4.6" height="4.6" fill="#fff" stroke="#000000" stroke-width="1.7"/>
<text x="448" y="305.7" font-size="10" text-anchor="start" font-weight="normal" fill="#231f20" >4 K</text>
<line x1="433.6" y1="318.6" x2="442.8" y2="318.6" stroke="#EE0000" stroke-width="2.8" stroke-linecap="round"/>
<circle cx="438.2" cy="318.6" r="2.65" fill="#fff" stroke="#EE0000" stroke-width="1.7"/>
<text x="448" y="322.1" font-size="10" text-anchor="start" font-weight="normal" fill="#231f20" >10 K</text>
<line x1="433.6" y1="334.6" x2="442.8" y2="334.6" stroke="#0000EE" stroke-width="2.8" stroke-linecap="round"/>
<path d="M438.2,331.4 L441.5,336.9 L434.9,336.9 Z" fill="#fff" stroke="#0000EE" stroke-width="1.5" stroke-linejoin="miter"/>
<text x="448" y="338.1" font-size="10" text-anchor="start" font-weight="normal" fill="#231f20" >300 K</text>
</svg>
</body></html>
